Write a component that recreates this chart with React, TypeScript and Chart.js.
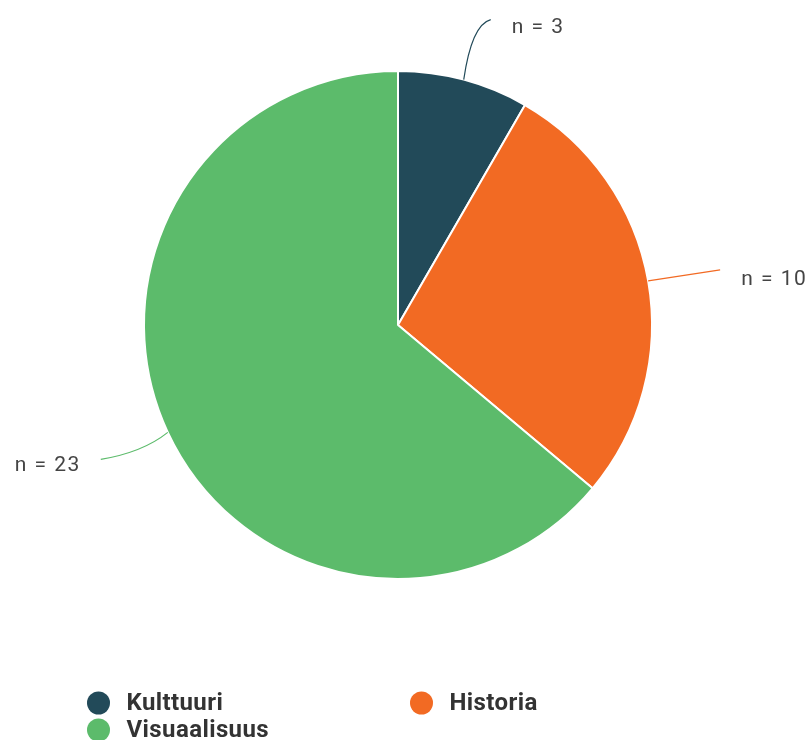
import React, { useEffect, useRef } from "react";
import { Chart, registerables } from "chart.js";

Chart.register(...registerables);

const categories = ["Kulttuuri", "Historia", "Visuaalisuus"];
const counts = [3, 10, 23];
const labelTexts = ["n = 3", "n = 10", "n = 23"];
const colors = ["#224a59", "#f26a23", "#5cbb6b"];

const connectorPlugin = {
  id: "connectors",
  afterDatasetsDraw(chart: any) {
    const ctx = chart.ctx;
    const meta = chart.getDatasetMeta(0);
    ctx.save();
    meta.data.forEach((arc: any, i: number) => {
      const { x, y, startAngle, endAngle, outerRadius } = arc.getProps(
        ["x", "y", "startAngle", "endAngle", "outerRadius"],
        true
      );
      const mid = (startAngle + endAngle) / 2;
      const cos = Math.cos(mid);
      const sin = Math.sin(mid);
      const sx = x + cos * outerRadius;
      const sy = y + sin * outerRadius;
      const right = cos >= 0;
      let endX: number, endY: number;
      if (i === 0) {
        endX = sx + 27;
        endY = sy - 60;
      } else if (right) {
        endX = sx + 72;
        endY = sy - 11;
      } else {
        endX = sx - 67;
        endY = sy + 27;
      }
      ctx.strokeStyle = colors[i];
      ctx.lineWidth = 1.2;
      ctx.beginPath();
      ctx.moveTo(sx, sy);
      if (i === 0) {
        ctx.quadraticCurveTo(sx + 8, sy - 55, endX, endY);
      } else if (right) {
        ctx.quadraticCurveTo(sx + 20, sy - 3, endX, endY);
      } else {
        ctx.quadraticCurveTo(sx - 25, sy + 20, endX, endY);
      }
      ctx.stroke();
      ctx.fillStyle = "#444444";
      ctx.font = "21px Roboto, 'Liberation Sans', sans-serif";
      (ctx as any).letterSpacing = "1.5px";
      ctx.textBaseline = "middle";
      if (i === 0) {
        ctx.textAlign = "left";
        ctx.fillText(labelTexts[i], endX + 21, endY + 8);
      } else if (right) {
        ctx.textAlign = "left";
        ctx.fillText(labelTexts[i], endX + 21, endY + 10);
      } else {
        ctx.textAlign = "right";
        ctx.fillText(labelTexts[i], endX - 20, endY + 6);
      }
    });
    ctx.restore();
  },
};

const legendPlugin = {
  id: "customLegend",
  afterDraw(chart: any) {
    const ctx = chart.ctx;
    const positions = [
      [98.5, 703],
      [421.5, 703],
      [98.5, 730],
    ];
    ctx.save();
    categories.forEach((c, i) => {
      const [px, py] = positions[i];
      ctx.fillStyle = colors[i];
      ctx.beginPath();
      ctx.arc(px, py, 11.5, 0, Math.PI * 2);
      ctx.fill();
      ctx.fillStyle = "#333333";
      ctx.font = "bold 24px Roboto, 'Liberation Sans', sans-serif";
      (ctx as any).letterSpacing = "0.4px";
      ctx.textAlign = "left";
      ctx.textBaseline = "middle";
      ctx.fillText(c, px + 28, py + 1);
    });
    ctx.restore();
  },
};

export default function App() {
  const ref = useRef<HTMLCanvasElement>(null);
  useEffect(() => {
    if (!ref.current) return;
    const chart = new Chart(ref.current, {
      type: "pie",
      data: {
        labels: categories,
        datasets: [
          {
            data: counts,
            backgroundColor: colors,
            borderColor: "#ffffff",
            borderWidth: 2,
          },
        ],
      },
      options: {
        animation: false,
        responsive: false,
        layout: { padding: { left: 143, right: 157, top: 70, bottom: 160 } },
        plugins: {
          legend: { display: false },
          tooltip: { enabled: false },
        },
      },
      plugins: [connectorPlugin, legendPlugin],
    });
    return () => chart.destroy();
  }, []);
  return (
    <div style={{ position: "absolute", left: 0, top: 0, width: 810, height: 740, background: "#fff" }}>
      <canvas ref={ref} width={810} height={740} style={{ width: 810, height: 740 }} />
    </div>
  );
}
